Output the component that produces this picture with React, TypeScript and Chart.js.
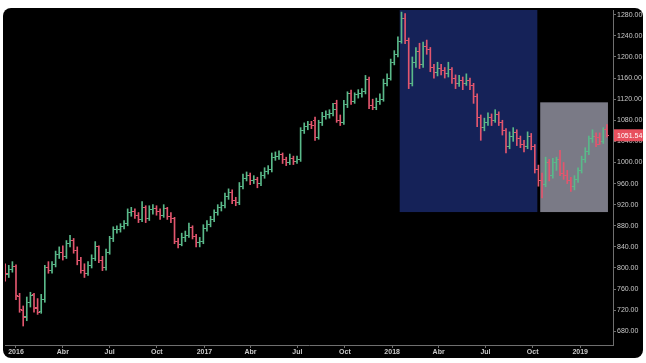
import React, { useEffect, useRef } from 'react';
import { Chart, registerables } from 'chart.js';

Chart.register(...registerables);

// Weekly bars; week index 0 = first week of January 2016
const FIRST_WEEK = -3;

const opens = [
  800, 788, 797, 803, 746, 720, 708, 734, 749, 725,
  718, 740, 800, 795, 806, 826, 830, 822, 846, 852,
  834, 814, 796, 790, 805, 818, 840, 815, 800, 830,
  855, 872, 873, 878, 885, 905, 908, 900, 892, 915,
  893, 910, 912, 908, 900, 912, 898, 893, 850, 845,
  858, 862, 876, 860, 848, 850, 875, 882, 892, 905,
  914, 918, 935, 944, 928, 924, 955, 970, 975, 965,
  968, 960, 975, 982, 986, 1010, 1012, 1015, 1005, 1000,
  1008, 1002, 1006, 1060, 1068, 1072, 1080, 1048, 1075, 1088,
  1090, 1093, 1112, 1080, 1075, 1110, 1130, 1116, 1128, 1130,
  1135, 1158, 1108, 1104, 1115, 1120, 1150, 1160, 1190, 1205,
  1230, 1272, 1232, 1150, 1190, 1210, 1186, 1220, 1214, 1180,
  1170, 1178, 1175, 1168, 1176, 1160, 1150, 1156, 1150, 1156,
  1145, 1125, 1085, 1066, 1076, 1086, 1080, 1090, 1075, 1060,
  1030, 1050, 1056, 1045, 1035, 1030, 1050, 1030, 986, 965,
  958, 1000, 975, 1000, 1006, 980, 975, 965, 955, 968,
  985, 1005, 1020, 1045, 1050, 1048, 1040, 1062,
];

const highs = [
  808, 805, 812, 806, 752, 728, 745, 754, 752, 742,
  750, 805, 812, 812, 832, 840, 842, 852, 862, 856,
  840, 820, 808, 812, 825, 850, 842, 822, 836, 860,
  878, 880, 884, 890, 912, 915, 912, 905, 926, 918,
  918, 920, 918, 912, 920, 915, 905, 896, 856, 866,
  870, 885, 880, 864, 858, 882, 890, 898, 910, 920,
  925, 942, 950, 948, 934, 962, 978, 982, 980, 975,
  972, 982, 990, 994, 1018, 1020, 1022, 1018, 1010, 1016,
  1012, 1012, 1066, 1075, 1078, 1078, 1086, 1080, 1095, 1098,
  1100, 1112, 1118, 1090, 1118, 1134, 1137, 1132, 1138, 1140,
  1165, 1162, 1120, 1122, 1130, 1158, 1168, 1196, 1212, 1238,
  1285, 1282, 1236, 1200, 1218, 1226, 1228, 1232, 1218, 1186,
  1190, 1186, 1180, 1190, 1180, 1166, 1165, 1162, 1168, 1160,
  1150, 1130, 1090, 1084, 1094, 1092, 1100, 1096, 1080, 1064,
  1058, 1066, 1062, 1050, 1042, 1058, 1055, 1034, 995, 980,
  1010, 1006, 1008, 1010, 1023, 1000, 985, 972, 975, 990,
  1012, 1028, 1050, 1062, 1056, 1056, 1066, 1072,
];

const lows = [
  775, 782, 792, 740, 716, 690, 700, 726, 716, 712,
  714, 735, 790, 790, 802, 818, 815, 818, 840, 828,
  806, 790, 782, 786, 800, 814, 810, 795, 796, 826,
  850, 866, 868, 874, 880, 898, 894, 886, 888, 886,
  890, 902, 900, 892, 896, 892, 886, 846, 838, 842,
  850, 858, 855, 840, 840, 846, 870, 878, 888, 900,
  908, 914, 930, 922, 918, 920, 950, 965, 958, 960,
  952, 956, 970, 978, 982, 1004, 1006, 998, 994, 996,
  996, 998, 1002, 1055, 1062, 1064, 1042, 1044, 1070, 1082,
  1084, 1088, 1076, 1070, 1072, 1104, 1110, 1112, 1122, 1124,
  1130, 1102, 1100, 1100, 1110, 1116, 1145, 1156, 1185, 1200,
  1226, 1225, 1140, 1145, 1180, 1178, 1180, 1205, 1172, 1160,
  1164, 1166, 1160, 1162, 1150, 1140, 1144, 1138, 1146, 1138,
  1112, 1068, 1042, 1060, 1070, 1070, 1076, 1070, 1052, 1018,
  1026, 1040, 1032, 1028, 1020, 1026, 1024, 980, 955, 933,
  954, 965, 970, 985, 975, 968, 960, 945, 948, 962,
  980, 1000, 1015, 1038, 1030, 1034, 1036, 1048,
];

const closes = [
  790, 798, 802, 748, 722, 706, 735, 748, 724, 716,
  740, 800, 796, 806, 826, 830, 822, 846, 852, 834,
  814, 796, 790, 805, 818, 840, 815, 800, 830, 855,
  872, 873, 878, 885, 905, 908, 900, 892, 915, 893,
  910, 912, 908, 900, 912, 898, 893, 850, 845, 858,
  862, 876, 860, 848, 850, 875, 882, 892, 905, 914,
  918, 935, 944, 928, 924, 955, 970, 975, 965, 968,
  960, 975, 982, 986, 1010, 1012, 1015, 1005, 1000, 1008,
  1002, 1006, 1060, 1068, 1072, 1070, 1048, 1075, 1088, 1090,
  1093, 1100, 1080, 1075, 1110, 1130, 1116, 1128, 1130, 1135,
  1158, 1108, 1104, 1115, 1120, 1150, 1160, 1190, 1205, 1230,
  1272, 1232, 1150, 1190, 1210, 1186, 1220, 1214, 1180, 1170,
  1178, 1175, 1168, 1176, 1160, 1150, 1156, 1150, 1156, 1145,
  1125, 1085, 1066, 1076, 1086, 1080, 1090, 1075, 1060, 1030,
  1050, 1056, 1045, 1035, 1030, 1050, 1030, 986, 965, 958,
  1000, 975, 1000, 1006, 980, 975, 965, 955, 968, 985,
  1005, 1020, 1045, 1050, 1035, 1040, 1062, 1051.54,
];

const tickLabels = ['2016', 'Abr', 'Jul', 'Oct', '2017', 'Abr', 'Jul', 'Oct', '2018', 'Abr', 'Jul', 'Oct', '2019'];
const tickWeeks = [0, 13, 26, 39.1, 52.3, 65.1, 78.1, 91.3, 104.4, 117.3, 130.3, 143.4, 156.6];
const priceTicks = [680, 720, 760, 800, 840, 880, 920, 960, 1000, 1040, 1080, 1120, 1160, 1200, 1240, 1280];

// Highlighted zones: [startWeek, endWeek, lowPrice, highPrice]
const distributionZone = [106.5, 144.7, 906, 1289];
const accumulationZone = [145.5, 164.3, 906, 1114];

const lastPrice = 1051.54;

const UP = '#5ab98a';
const DOWN = '#e2566e';
const AXIS = '#6f6f6f';
const LABEL = '#c9c9c9';

function tickImage(color: string, side: 'left' | 'right') {
  const c = document.createElement('canvas');
  c.width = 5;
  c.height = 1;
  const ctx = c.getContext('2d')!;
  ctx.fillStyle = color;
  ctx.fillRect(side === 'left' ? 0 : 3, 0, 2, 1);
  return c;
}

export default function App() {
  const ref = useRef<HTMLCanvasElement | null>(null);

  useEffect(() => {
    if (!ref.current) return;
    const weeks = closes.map((_, i) => FIRST_WEEK + i);
    const isUp = (i: number) => closes[i] >= opens[i];
    const colors = closes.map((_, i) => (isUp(i) ? UP : DOWN));
    const openUp = tickImage(UP, 'left');
    const openDown = tickImage(DOWN, 'left');
    const closeUp = tickImage(UP, 'right');
    const closeDown = tickImage(DOWN, 'right');

    const zonesPlugin = {
      id: 'zones',
      beforeDatasetsDraw(chart: any) {
        const { ctx, chartArea, scales } = chart;
        const x = scales.x;
        const y = scales.y;
        ctx.save();
        ctx.beginPath();
        ctx.rect(chartArea.left, chartArea.top, chartArea.right - chartArea.left, chartArea.bottom - chartArea.top);
        ctx.clip();
        const draw = (z: number[], color: string) => {
          const x0 = x.getPixelForValue(z[0]);
          const x1 = x.getPixelForValue(z[1]);
          const y0 = y.getPixelForValue(z[3]);
          const y1 = y.getPixelForValue(z[2]);
          ctx.fillStyle = color;
          ctx.fillRect(x0, y0, x1 - x0, y1 - y0);
        };
        draw(distributionZone, 'rgb(21,34,88)');
        draw(accumulationZone, 'rgb(122,122,134)');
        ctx.restore();
      },
      afterDraw(chart: any) {
        const { ctx, chartArea, scales } = chart;
        const py = scales.y.getPixelForValue(lastPrice);
        ctx.save();
        ctx.fillStyle = '#e8505e';
        ctx.fillRect(chartArea.right + 1, py - 6, 29, 12);
        ctx.fillStyle = '#ffffff';
        ctx.font = '7px "Liberation Sans", Arial, sans-serif';
        ctx.textBaseline = 'middle';
        ctx.textAlign = 'left';
        ctx.fillText(lastPrice.toFixed(2), chartArea.right + 4, py + 0.5);
        ctx.restore();
      },
    };

    const chart = new Chart(ref.current, {
      type: 'bar',
      data: {
        datasets: [
          {
            type: 'bar',
            data: weeks.map((w, i) => ({ x: w, y: [lows[i], highs[i]] })) as any,
            backgroundColor: colors,
            borderWidth: 0,
            barThickness: 1,
            order: 1,
          } as any,
          {
            type: 'line',
            data: weeks.map((w, i) => ({ x: w, y: opens[i] })),
            showLine: false,
            pointRadius: 1,
            pointHoverRadius: 1,
            pointStyle: (c: any) => (isUp(c.dataIndex) ? openUp : openDown),
            order: 0,
          } as any,
          {
            type: 'line',
            data: weeks.map((w, i) => ({ x: w, y: closes[i] })),
            showLine: false,
            pointRadius: 1,
            pointHoverRadius: 1,
            pointStyle: (c: any) => (isUp(c.dataIndex) ? closeUp : closeDown),
            order: 0,
          } as any,
        ],
      },
      options: {
        animation: false,
        responsive: false,
        devicePixelRatio: 1,
        layout: { padding: 0 },
        plugins: { legend: { display: false }, tooltip: { enabled: false } },
        scales: {
          x: {
            type: 'linear',
            min: -3.05,
            max: 165.7,
            offset: false,
            grid: { display: true, drawOnChartArea: false, drawTicks: true, tickLength: 3, color: AXIS, offset: false },
            border: { display: true, color: AXIS },
            afterBuildTicks: (scale: any) => {
              scale.ticks = tickWeeks.map((v) => ({ value: v }));
            },
            afterFit: (scale: any) => {
              scale.height = 13;
              scale.paddingLeft = 0;
              scale.paddingRight = 0;
            },
            ticks: {
              autoSkip: false,
              maxRotation: 0,
              padding: 0,
              color: LABEL,
              font: { size: 7, weight: 'bold', family: '"Liberation Sans", Arial, sans-serif' },
              callback: (_v: any, i: number) => tickLabels[i],
            },
          },
          y: {
            position: 'right',
            min: 654,
            max: 1289,
            grid: { display: true, drawOnChartArea: false, drawTicks: true, tickLength: 3, color: AXIS },
            border: { display: true, color: AXIS },
            afterBuildTicks: (scale: any) => {
              scale.ticks = priceTicks.map((v) => ({ value: v }));
            },
            afterFit: (scale: any) => {
              scale.width = 30;
              scale.paddingTop = 0;
              scale.paddingBottom = 0;
            },
            ticks: {
              padding: 1,
              color: LABEL,
              font: { size: 7, family: '"Liberation Sans", Arial, sans-serif' },
              callback: (v: any) => Number(v).toFixed(2),
            },
          },
        },
      } as any,
      plugins: [zonesPlugin],
    });
    return () => chart.destroy();
  }, []);

  return (
    <div
      style={{
        position: 'absolute',
        left: 3,
        top: 8,
        width: 640,
        height: 350,
        background: '#000',
        borderRadius: 8,
        overflow: 'hidden',
      }}
    >
      <canvas ref={ref} width={640} height={350} style={{ display: 'block', width: 640, height: 350 }} />
    </div>
  );
}
